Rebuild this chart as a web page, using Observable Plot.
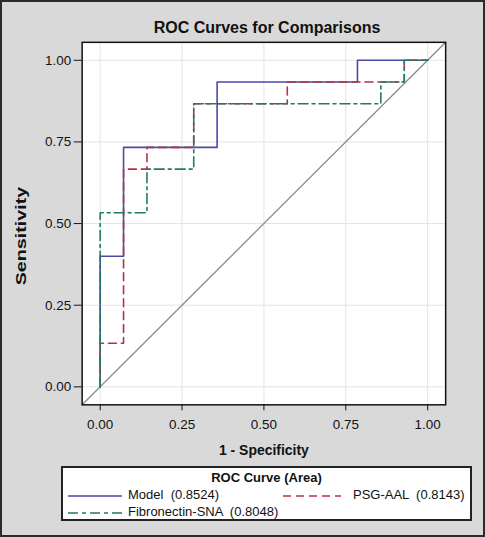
<!DOCTYPE html>
<html>
<head>
<meta charset="utf-8">
<script src="https://cdn.jsdelivr.net/npm/d3@7"></script>
<script src="https://cdn.jsdelivr.net/npm/@observablehq/plot@0.6"></script>
<style>
  html, body { margin: 0; padding: 0; background: #d9d9d9; }
  #wrap { position: relative; width: 485px; height: 537px; box-sizing: border-box;
          border: 2px solid #2b2b2b; background: #d9d9d9; overflow: hidden;
          font-family: "Liberation Sans", Arial, sans-serif; color: #111; }
  #title { position: absolute; left: 0; width: 530px; top: 17px; text-align: center;
           font-weight: bold; font-size: 16px; }
  #plot { position: absolute; left: -2px; top: -2px; }
  #legend { position: absolute; left: 59px; top: 464px; width: 407px; height: 51px;
            background: #fff; border: 2px solid #222; }
  #legend .lt { position: absolute; left: 0; width: 100%; top: 2px; text-align: center;
                font-weight: bold; font-size: 13px; }
  #legend .item { position: absolute; font-size: 13px; white-space: pre; }
  #legend svg { position: absolute; }
</style>
</head>
<body>
<div id="wrap">
  <div id="title">ROC Curves for Comparisons</div>
  <div id="plot"></div>
  <div id="legend"></div>
</div>
<script>
// ---- data ----
const tickValues = [0, 0.25, 0.5, 0.75, 1];
const seriesNames = ["Model", "PSG-AAL", "Fibronectin-SNA"];
const seriesAreas = ["0.8524", "0.8143", "0.8048"];
const seriesColors = ["#4b4aa8", "#b23345", "#217a66"];
const xLabel = "1 - Specificity";
const yLabel = "Sensitivity";

const modelFpr = [0, 0, 0.0714, 0.0714, 0.3571, 0.3571, 0.7857, 0.7857, 1];
const modelTpr = [0, 0.4, 0.4, 0.7333, 0.7333, 0.9333, 0.9333, 1, 1];

const psgFpr = [0, 0, 0.0714, 0.0714, 0.1429, 0.1429, 0.2857, 0.2857, 0.5714, 0.5714, 0.9286, 0.9286, 1];
const psgTpr = [0, 0.1333, 0.1333, 0.6667, 0.6667, 0.7333, 0.7333, 0.8667, 0.8667, 0.9333, 0.9333, 1, 1];

const fibFpr = [0, 0, 0.1429, 0.1429, 0.2857, 0.2857, 0.8571, 0.8571, 0.9286, 0.9286, 1];
const fibTpr = [0, 0.5333, 0.5333, 0.6667, 0.6667, 0.8667, 0.8667, 0.9333, 0.9333, 1, 1];

const axisDomain = [-0.055, 1.055];

// ---- build ----
const toRows = (fpr, tpr) => fpr.map((x, i) => ({x, y: tpr[i]}));
const model = toRows(modelFpr, modelTpr);
const psg = toRows(psgFpr, psgTpr);
const fib = toRows(fibFpr, fibTpr);
const diag = axisDomain.map(v => ({x: v, y: v}));

const fmt = d3.format(".2f");

const chart = Plot.plot({
  width: 485,
  height: 537,
  marginLeft: 82,
  marginRight: 38,
  marginTop: 42,
  marginBottom: 131,
  style: { background: "transparent", fontFamily: "Liberation Sans, Arial, sans-serif", color: "#111" },
  x: { domain: axisDomain },
  y: { domain: axisDomain },
  marks: [
    Plot.frame({ fill: "#fff" }),
    Plot.gridX(tickValues, { stroke: "#e4e4e4", strokeOpacity: 1, strokeWidth: 1 }),
    Plot.gridY(tickValues, { stroke: "#e4e4e4", strokeOpacity: 1, strokeWidth: 1 }),
    Plot.line(diag, { x: "x", y: "y", stroke: "#8a8a8a", strokeWidth: 1.3 }),
    Plot.line(model, { x: "x", y: "y", stroke: seriesColors[0], strokeWidth: 1.6 }),
    Plot.line(psg, { x: "x", y: "y", stroke: seriesColors[1], strokeWidth: 1.6, strokeDasharray: "8,5" }),
    Plot.line(fib, { x: "x", y: "y", stroke: seriesColors[2], strokeWidth: 1.6, strokeDasharray: "10,4,3,4" }),
    Plot.axisX({ ticks: tickValues, tickFormat: fmt, tickSize: 6, tickPadding: 9, fontSize: 13.5,
                 label: xLabel, labelAnchor: "center", labelArrow: "none", labelOffset: 50 }),
    Plot.axisY({ ticks: tickValues, tickFormat: fmt, tickSize: 8, tickPadding: 3, fontSize: 13.5,
                 label: null }),
    Plot.frame({ stroke: "#111", strokeWidth: 1.5 })
  ]
});
// bold x axis label
chart.querySelectorAll("g[aria-label='x-axis label'] text")
  .forEach(t => { t.style.fontWeight = "bold"; t.style.fontSize = "14px"; });
// y label: stretched like the SAS original
d3.select(chart).append("text")
  .attr("transform", "translate(26,237) rotate(-90)")
  .attr("text-anchor", "middle")
  .attr("font-weight", "bold")
  .attr("font-size", 14)
  .attr("fill", "#111")
  .attr("textLength", 99)
  .attr("lengthAdjust", "spacingAndGlyphs")
  .text(yLabel);
document.getElementById("plot").appendChild(chart);

// ---- legend ----
const legend = document.getElementById("legend");
const lt = document.createElement("div");
lt.className = "lt";
lt.textContent = "ROC Curve (Area)";
legend.appendChild(lt);

const dashes = ["none", "8,5", "10,4,4,4"];
const pos = [ {lx: 5, tx: 65, y: 28}, {lx: 220, tx: 290, y: 28}, {lx: 5, tx: 65, y: 45} ];
seriesNames.forEach((name, i) => {
  const p = pos[i];
  const svg = d3.create("svg").attr("width", 60).attr("height", 6)
    .style("left", p.lx + "px").style("top", (p.y - 3) + "px");
  svg.append("line").attr("x1", 0).attr("x2", i === 1 ? 58 : 54).attr("y1", 3).attr("y2", 3)
    .attr("stroke", seriesColors[i]).attr("stroke-width", 1.6)
    .attr("stroke-dasharray", dashes[i]);
  legend.appendChild(svg.node());
  const t = document.createElement("div");
  t.className = "item";
  t.style.left = p.tx + "px";
  t.style.top = (p.y - 9) + "px";
  t.textContent = name + "  (" + seriesAreas[i] + ")";
  legend.appendChild(t);
});
</script>
</body>
</html>
